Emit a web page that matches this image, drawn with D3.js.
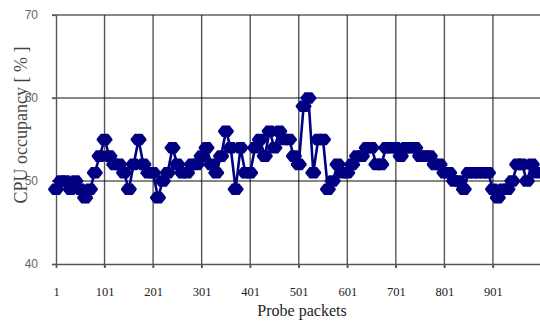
<!DOCTYPE html>
<html>
<head>
<meta charset="utf-8">
<script src="https://cdn.jsdelivr.net/npm/d3@7"></script>
<style>
  html, body { margin: 0; padding: 0; background: #fff; }
  svg { display: block; }
</style>
</head>
<body>
<svg id="chart" width="540" height="321"></svg>
<script>
// CPU occupancy sampled every 10 probe packets
const packets = d3.range(0, 100).map(k => 1 + k * 10);
const cpuOccupancy = [
  49, 50, 50, 49, 50, 49, 48, 49, 51, 53,
  55, 53, 52, 52, 51, 49, 52, 55, 52, 51,
  51, 48, 50, 51, 54, 52, 51, 51, 52, 52,
  53, 54, 52, 51, 53, 56, 54, 49, 54, 51,
  51, 54, 55, 53, 56, 54, 56, 55, 55, 53,
  52, 59, 60, 51, 55, 55, 49, 50, 52, 51,
  51, 52, 53, 53, 54, 54, 52, 52, 54, 54,
  54, 53, 54, 54, 54, 53, 53, 53, 52, 52,
  51, 51, 50, 50, 49, 51, 51, 51, 51, 51,
  49, 48, 49, 49, 50, 52, 52, 50, 52, 51
];
const xTickValues = [1, 101, 201, 301, 401, 501, 601, 701, 801, 901];
const yTickValues = [40, 50, 60, 70];

const svg = d3.select("#chart");
const plotLeft = 56, plotRight = 541, plotTop = 15, plotBottom = 264;

const x = d3.scaleLinear().domain([1, 1000]).range([plotLeft, plotRight]);
const y = d3.scaleLinear().domain([40, 70]).range([plotBottom, plotTop]);

// vertical grid lines at each x tick
svg.append("g").selectAll("line")
  .data(xTickValues.slice(1))
  .join("line")
  .attr("x1", d => x(d)).attr("x2", d => x(d))
  .attr("y1", plotTop).attr("y2", plotBottom + 4)
  .attr("stroke", "#555").attr("stroke-width", 1.4);

// horizontal grid lines
svg.append("g").selectAll("line")
  .data(yTickValues.slice(1))
  .join("line")
  .attr("x1", plotLeft - 4).attr("x2", 540)
  .attr("y1", d => y(d)).attr("y2", d => y(d))
  .attr("stroke", "#111").attr("stroke-width", 1.2);

// x axis
const xAxis = d3.axisBottom(x).tickValues(xTickValues).tickSize(4).tickPadding(19)
  .tickFormat(d3.format("d"));
const gx = svg.append("g").attr("transform", `translate(0,${plotBottom})`).call(xAxis);
gx.select(".domain").attr("d", `M${plotLeft - 4},0.5H540`).attr("stroke", "#555").attr("stroke-width", 1.4);
gx.selectAll(".tick line").attr("stroke", "#555").attr("stroke-width", 1.4);
gx.selectAll("text").attr("font-family", "Liberation Serif").attr("font-size", 12.5).attr("fill", "#222");

// y axis
const yAxis = d3.axisLeft(y).tickValues(yTickValues).tickSize(4).tickPadding(14);
const gy = svg.append("g").attr("transform", `translate(${plotLeft},0)`).call(yAxis);
gy.select(".domain").attr("d", `M0.5,${plotTop}V${plotBottom + 4}`).attr("stroke", "#555").attr("stroke-width", 1.4);
gy.selectAll(".tick line").attr("stroke", "#555").attr("stroke-width", 1.2);
gy.selectAll("text").attr("font-family", "Liberation Sans").attr("font-size", 12).attr("fill", "#666");

// series line
const pts = packets.map((p, i) => [p, cpuOccupancy[i]]);
svg.append("path")
  .datum(pts)
  .attr("fill", "none")
  .attr("stroke", "#000080")
  .attr("stroke-width", 2.6)
  .attr("d", d3.line().x(d => x(d[0])).y(d => y(d[1])));

// diamond-style markers
const marker = "M-3.8,-5.8L3.8,-5.8L7.8,-0.8L7.8,0.8L3.8,5.8L-3.8,5.8L-7.8,0.8L-7.8,-0.8Z";
svg.append("g").selectAll("path")
  .data(pts)
  .join("path")
  .attr("d", marker)
  .attr("transform", d => `translate(${x(d[0])},${y(d[1])})`)
  .attr("fill", "#000080");

// axis titles
svg.append("text")
  .attr("x", 302).attr("y", 316)
  .attr("text-anchor", "middle")
  .attr("font-family", "Liberation Serif").attr("font-size", 16).attr("fill", "#222")
  .text("Probe packets");

svg.append("text")
  .attr("transform", "translate(27,125) rotate(-90)")
  .attr("text-anchor", "middle")
  .attr("font-family", "Liberation Serif").attr("font-size", 18).attr("fill", "#444")
  .text("CPU occupancy [ % ]");
</script>
</body>
</html>
